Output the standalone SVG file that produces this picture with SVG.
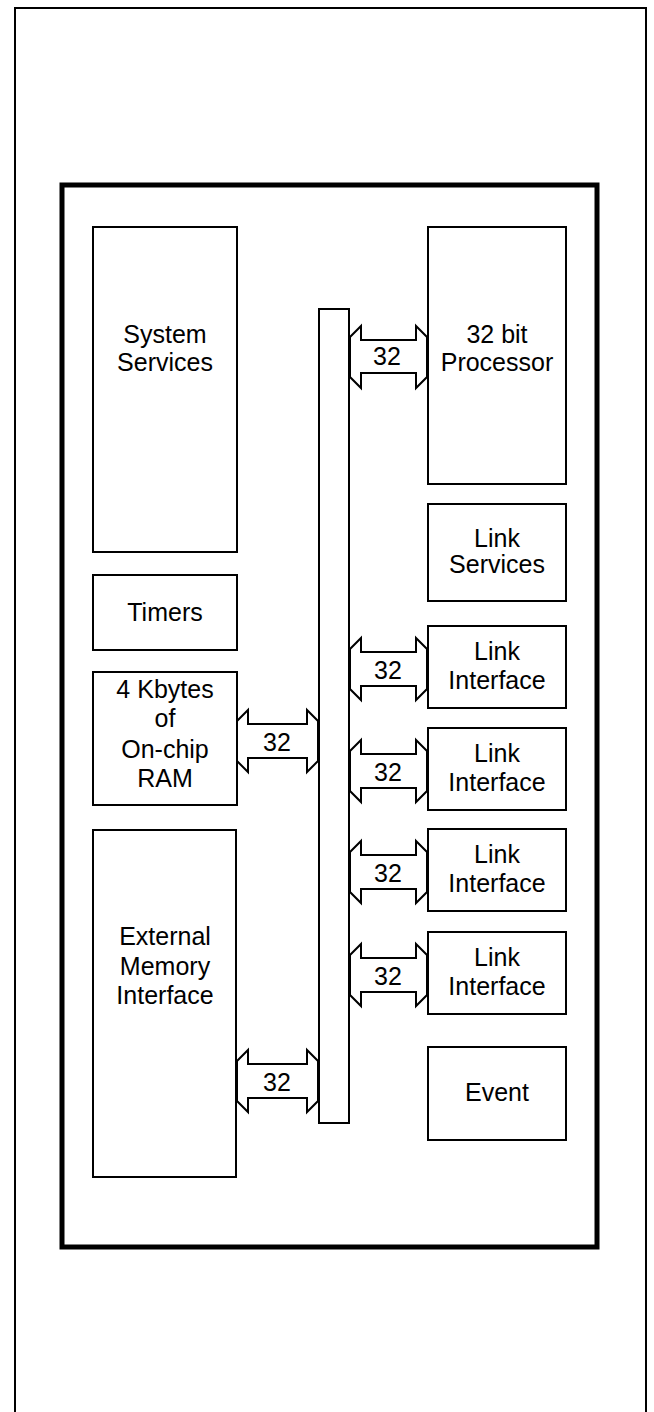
<svg xmlns="http://www.w3.org/2000/svg" width="654" height="1412" viewBox="0 0 654 1412">
<style>
.box{fill:#fff;stroke:#000;stroke-width:2}
.arr{fill:#fff;stroke:#000;stroke-width:2;stroke-linejoin:miter}
text{font-family:"Liberation Sans",Arial,sans-serif;font-size:25px;fill:#000;text-anchor:middle}
</style>
<rect width="654" height="1412" fill="#fff"/>
<path d="M15,1412 V8 H646 V1412" fill="none" stroke="#000" stroke-width="2"/>
<rect id="chip" x="62" y="185" width="535" height="1062" fill="none" stroke="#000" stroke-width="5"/>
<g id="bus"><rect class="box" x="319" y="309" width="30" height="814"/></g>
<g id="system-services"><rect class="box" x="93" y="227" width="144" height="325"/><text x="165" y="343">System</text><text x="165" y="371">Services</text></g>
<g id="timers"><rect class="box" x="93" y="575" width="144" height="75"/><text x="165" y="621">Timers</text></g>
<g id="ram"><rect class="box" x="93" y="672" width="144" height="133"/><text x="165" y="698">4 Kbytes</text><text x="165" y="727">of</text><text x="165" y="758">On-chip</text><text x="165" y="787">RAM</text></g>
<g id="ext-mem"><rect class="box" x="93" y="830" width="143" height="347"/><text x="165" y="945">External</text><text x="165" y="975">Memory</text><text x="165" y="1004">Interface</text></g>
<g id="processor"><rect class="box" x="428" y="227" width="138" height="257"/><text x="497" y="343">32 bit</text><text x="497" y="371">Processor</text></g>
<g id="link-services"><rect class="box" x="428" y="504" width="138" height="97"/><text x="497" y="547">Link</text><text x="497" y="573">Services</text></g>
<g id="link1"><rect class="box" x="428" y="626" width="138" height="82"/><text x="497" y="660">Link</text><text x="497" y="689">Interface</text></g>
<g id="link2"><rect class="box" x="428" y="728" width="138" height="82"/><text x="497" y="762">Link</text><text x="497" y="791">Interface</text></g>
<g id="link3"><rect class="box" x="428" y="829" width="138" height="82"/><text x="497" y="863">Link</text><text x="497" y="892">Interface</text></g>
<g id="link4"><rect class="box" x="428" y="932" width="138" height="82"/><text x="497" y="966">Link</text><text x="497" y="995">Interface</text></g>
<g id="event"><rect class="box" x="428" y="1047" width="138" height="93"/><text x="497" y="1101">Event</text></g>
<g id="connectors">
<path class="arr" d="M350,337 L361,326 V340 H416 V326 L427,337 V377 L416,388 V373 H361 V388 L350,377 Z"/>
<text x="387" y="365">32</text>
<path class="arr" d="M350,649 L361,638 V652 H416 V638 L427,649 V689 L416,700 V686 H361 V700 L350,689 Z"/>
<text x="388" y="679">32</text>
<path class="arr" d="M350,751 L361,740 V754 H416 V740 L427,751 V791 L416,802 V788 H361 V802 L350,791 Z"/>
<text x="388" y="781">32</text>
<path class="arr" d="M350,852 L361,841 V855 H416 V841 L427,852 V892 L416,903 V889 H361 V903 L350,892 Z"/>
<text x="388" y="882">32</text>
<path class="arr" d="M350,955 L361,944 V958 H416 V944 L427,955 V995 L416,1006 V992 H361 V1006 L350,995 Z"/>
<text x="388" y="985">32</text>
<path class="arr" d="M237,721 L248,710 V724 H307 V710 L318,721 V761 L307,772 V758 H248 V772 L237,761 Z"/>
<text x="277" y="751">32</text>
<path class="arr" d="M237,1061 L248,1050 V1064 H307 V1050 L318,1061 V1101 L307,1112 V1098 H248 V1112 L237,1101 Z"/>
<text x="277" y="1091">32</text>
</g>
</svg>
